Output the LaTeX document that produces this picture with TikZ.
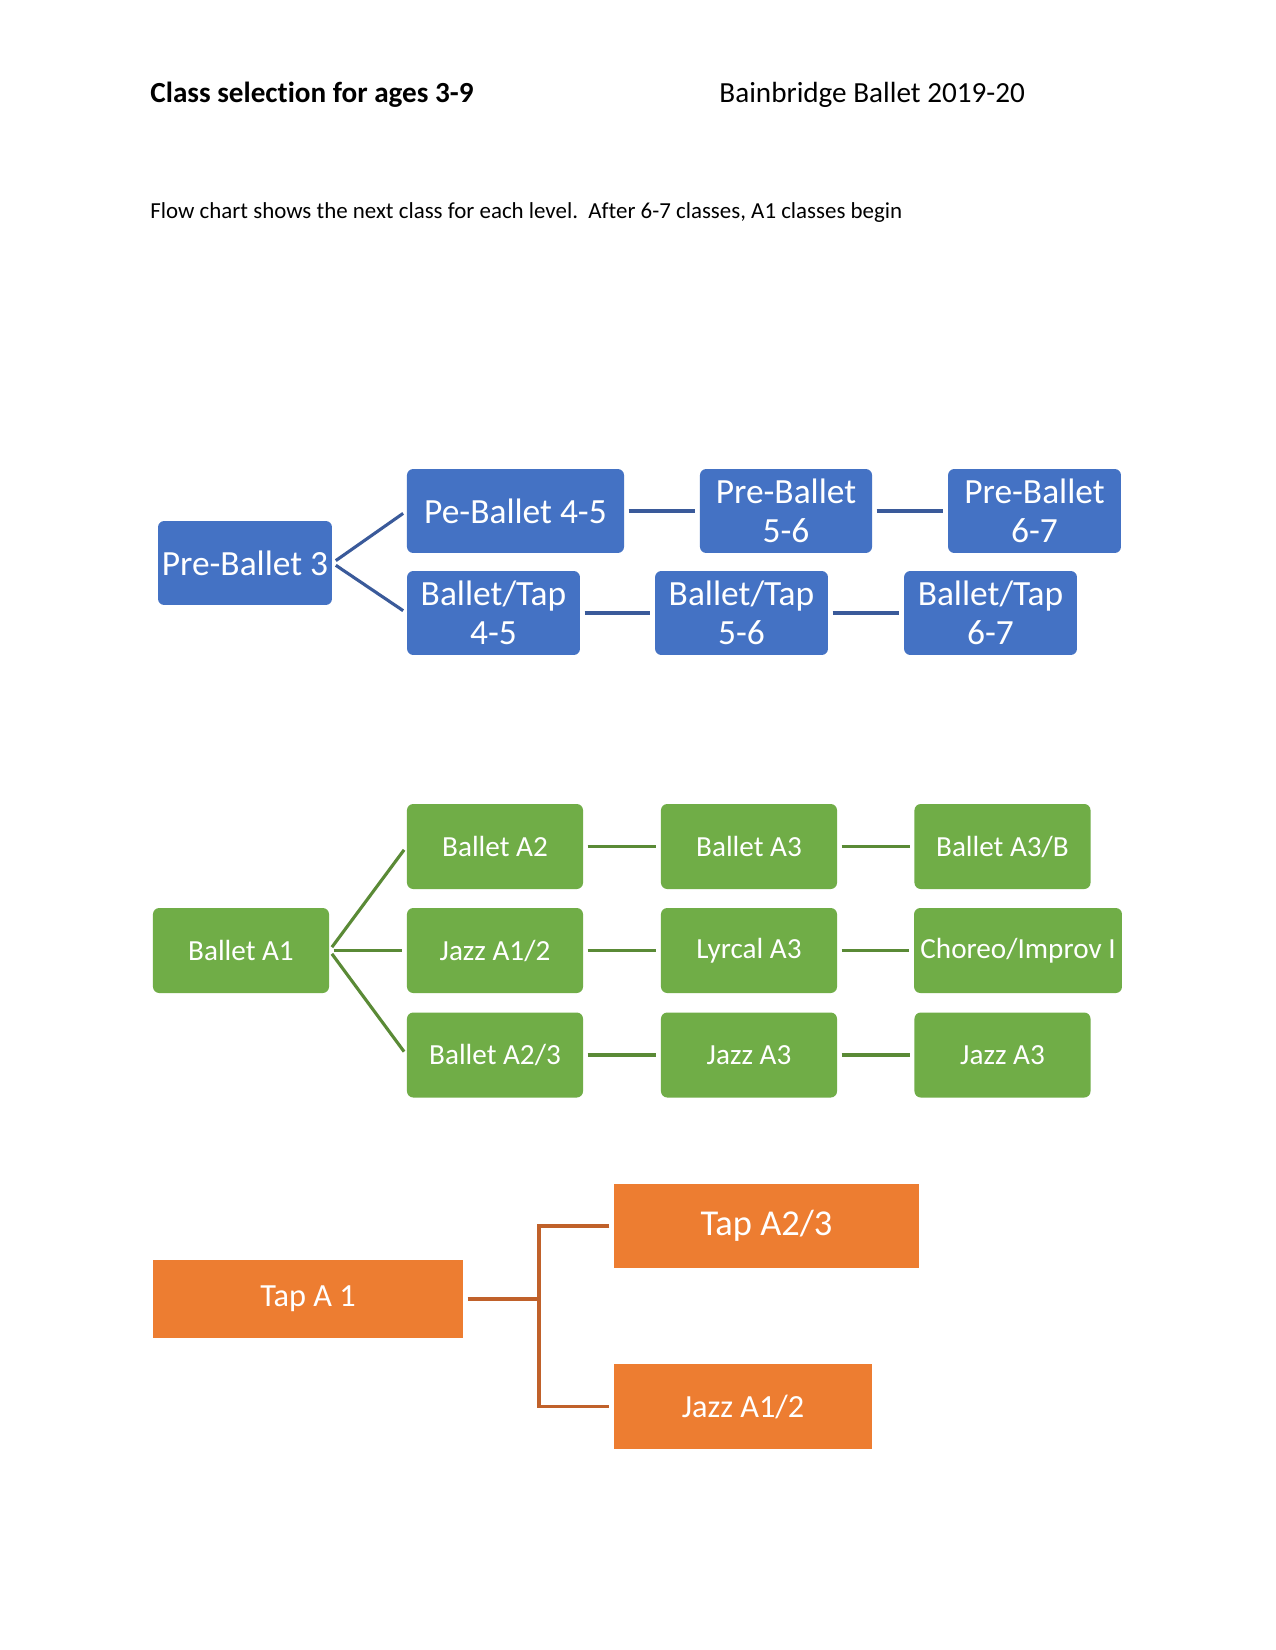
\documentclass[tikz,border=0pt]{standalone}
\usepackage{fontspec}
\setmainfont{Carlito}[Ligatures=NoCommon]
\definecolor{cblue}{HTML}{4472C4}
\definecolor{cgreen}{HTML}{70AD47}
\definecolor{corange}{HTML}{ED7D31}
\definecolor{lblue}{HTML}{3A5A9A}
\definecolor{lgreen}{HTML}{5A8A36}
\definecolor{lorange}{HTML}{C0612A}
\begin{document}
\begin{tikzpicture}[x=0.48pt,y=-0.48pt,
  bluebox/.style={fill=cblue,rounded corners=3pt,text=white,align=center,inner sep=0pt,
    minimum height=40.3pt,font=\fontsize{17}{19}\selectfont},
  greenbox/.style={fill=cgreen,rounded corners=3pt,text=white,align=center,inner sep=0pt,
    minimum height=40.8pt,minimum width=84.5pt,font=\fontsize{14}{16}\selectfont},
  orangebox/.style={fill=corange,text=white,align=center,inner sep=0pt,font=\fontsize{15.5}{18}\selectfont},
  bline/.style={draw=lblue,line width=1.5pt,shorten <=2pt,shorten >=2pt},
  gline/.style={draw=lgreen,line width=1.5pt,shorten <=2pt,shorten >=2pt},
  oline/.style={draw=lorange,line width=1.5pt}]
\useasboundingbox (0,0) rectangle (1275,1650);
\fill[white] (0,0) rectangle (1275,1650);
% header
\node[anchor=base west,inner sep=0pt,font=\fontsize{14}{16}\selectfont\bfseries] (title) at (150,103) {Class selection for ages 3-9};
\node[anchor=base west,inner sep=0pt,font=\fontsize{14}{16}\selectfont] (org) at (719,103) {Bainbridge Ballet 2019-20};
\node[anchor=base west,inner sep=0pt,font=\fontsize{11}{13}\selectfont] (sub) at (150,219) {Flow chart shows the next class for each level.\ \ After 6-7 classes, A1 classes begin};
% blue
\node[bluebox,minimum width=83.5pt] (pb3) at (245,563) {Pre-Ballet 3};
\node[bluebox,minimum width=104.2pt] (pb45) at (515.5,511) {Pe-Ballet 4-5};
\node[bluebox,minimum width=82.6pt] (pb56) at (786,511) {Pre-Ballet\\5-6};
\node[bluebox,minimum width=83pt] (pb67) at (1034.5,511) {Pre-Ballet\\6-7};
\node[bluebox,minimum width=83pt] (bt45) at (493.5,613) {Ballet/Tap\\4-5};
\node[bluebox,minimum width=83pt] (bt56) at (741.5,613) {Ballet/Tap\\5-6};
\node[bluebox,minimum width=83pt] (bt67) at (990.5,613) {Ballet/Tap\\6-7};
\draw[bline] (pb3.east) -- (pb45.west);
\draw[bline] (pb3.east) -- (bt45.west);
\draw[bline] (pb45) -- (pb56);
\draw[bline] (pb56) -- (pb67);
\draw[bline] (bt45) -- (bt56);
\draw[bline] (bt56) -- (bt67);
% green
\node[greenbox] (ba1) at (241,950.5) {Ballet A1};
\node[greenbox] (ba2) at (495,846.5) {Ballet A2};
\node[greenbox] (ba3) at (749,846.5) {Ballet A3};
\node[greenbox] (ba3b) at (1002.5,846.5) {Ballet A3/B};
\node[greenbox] (jz12) at (495,950.5) {Jazz A1/2};
\node[greenbox] (ly3) at (749,950.5) {Lyrcal A3};
\node[greenbox,minimum width=99.8pt] (chi) at (1018,950.5) {Choreo/Improv I};
\node[greenbox] (ba23) at (495,1055) {Ballet A2/3};
\node[greenbox] (jz3a) at (749,1055) {Jazz A3};
\node[greenbox] (jz3b) at (1002.5,1055) {Jazz A3};
\draw[gline] (ba1.east) -- (ba2.west);
\draw[gline] (ba1.east) -- (jz12.west);
\draw[gline] (ba1.east) -- (ba23.west);
\draw[gline] (ba2) -- (ba3);
\draw[gline] (ba3) -- (ba3b);
\draw[gline] (jz12) -- (ly3);
\draw[gline] (ly3) -- (chi);
\draw[gline] (ba23) -- (jz3a);
\draw[gline] (jz3a) -- (jz3b);
% orange
\node[orangebox,minimum width=148.8pt,minimum height=37.4pt] (ta1) at (308,1299) {Tap A 1};
\node[orangebox,minimum width=146.4pt,minimum height=40.3pt,font=\fontsize{17.5}{20}\selectfont] (ta23) at (766.5,1226) {Tap A2/3};
\node[orangebox,minimum width=123.8pt,minimum height=40.8pt] (jzo) at (743,1406.5) {Jazz A1/2};
\coordinate (tj) at (539,1299);
\draw[oline] ([xshift=2pt]ta1.east) -- (tj);
\draw[oline] ([xshift=-2pt]ta23.west) -| (tj |- jzo.west) -- ([xshift=-2pt]jzo.west);
\end{tikzpicture}
\end{document}
